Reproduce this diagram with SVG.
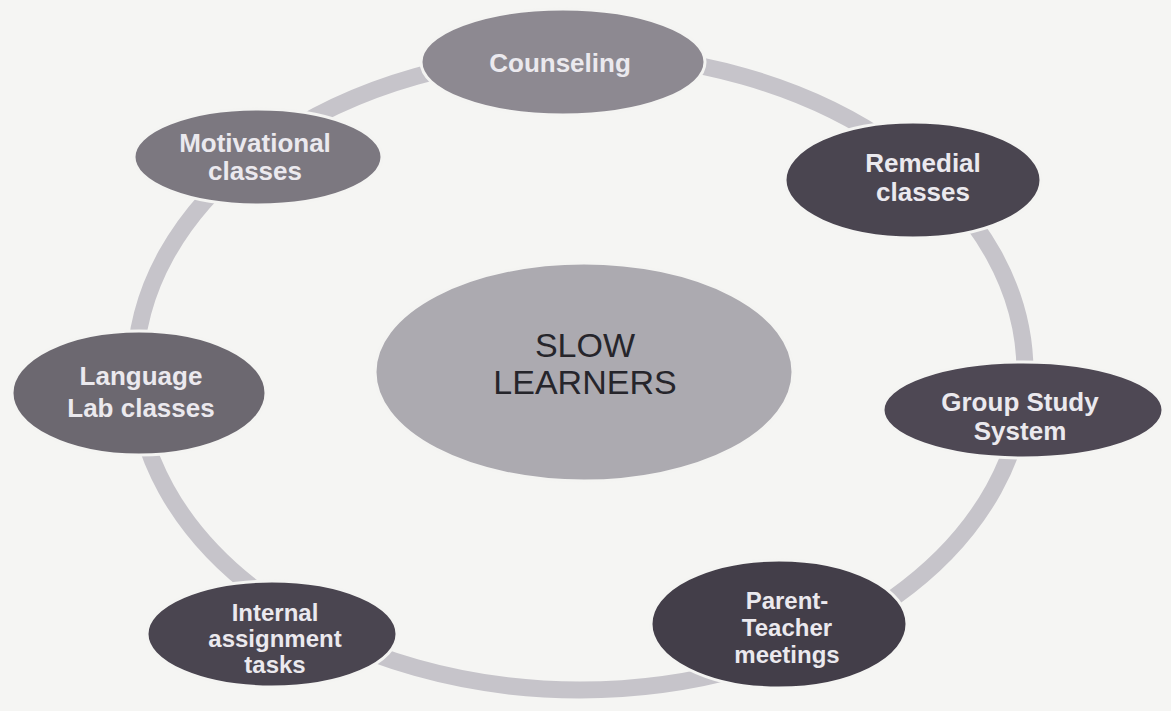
<svg xmlns="http://www.w3.org/2000/svg" width="1171" height="711" viewBox="0 0 1171 711">
<style>
.node{stroke:#f4f4f2;stroke-width:3}
.lbl{font-family:"Liberation Sans",Arial,sans-serif;font-weight:bold;font-size:26px;fill:#ebe9ee;text-anchor:middle}
.sm{font-size:24px}
.ctr{font-family:"Liberation Sans",Arial,sans-serif;font-size:34px;fill:#26252b;text-anchor:middle}
</style>
<rect x="0" y="0" width="1171" height="711" fill="#f5f5f3"/>
<g id="connectors">
<ellipse cx="580" cy="372" rx="445" ry="318" fill="none" stroke="#c6c4ca" stroke-width="17"/>
</g>
<g id="center">
<ellipse class="node" cx="584" cy="372" rx="209" ry="109" fill="#acaab0"/>
<text class="ctr" x="585" y="357">SLOW</text>
<text class="ctr" x="585" y="394">LEARNERS</text>
</g>
<g id="counseling">
<ellipse class="node" cx="563" cy="62" rx="142" ry="53" fill="#8d8991"/>
<text class="lbl" x="560" y="72">Counseling</text>
</g>
<g id="remedial">
<ellipse class="node" cx="913" cy="180" rx="128" ry="58" fill="#4a4550"/>
<text class="lbl" x="923" y="172">Remedial</text>
<text class="lbl" x="923" y="201">classes</text>
</g>
<g id="group-study">
<ellipse class="node" cx="1023" cy="410" rx="140" ry="48" fill="#4e4854"/>
<text class="lbl" x="1020" y="411">Group Study</text>
<text class="lbl" x="1020" y="440">System</text>
</g>
<g id="parent-teacher">
<ellipse class="node" cx="779" cy="624" rx="128" ry="64" fill="#433e49"/>
<text class="lbl sm" x="787" y="609">Parent-</text>
<text class="lbl sm" x="787" y="636">Teacher</text>
<text class="lbl sm" x="787" y="663">meetings</text>
</g>
<g id="internal">
<ellipse class="node" cx="272" cy="634" rx="125" ry="53" fill="#4a4550"/>
<text class="lbl sm" x="275" y="621">Internal</text>
<text class="lbl sm" x="275" y="647">assignment</text>
<text class="lbl sm" x="275" y="673">tasks</text>
</g>
<g id="language-lab">
<ellipse class="node" cx="139" cy="393" rx="127" ry="62" fill="#6c6870"/>
<text class="lbl" x="141" y="385">Language</text>
<text class="lbl" x="141" y="417">Lab classes</text>
</g>
<g id="motivational">
<ellipse class="node" cx="258" cy="157" rx="124" ry="48" fill="#7c7880"/>
<text class="lbl" x="255" y="152">Motivational</text>
<text class="lbl" x="255" y="180">classes</text>
</g>
</svg>
